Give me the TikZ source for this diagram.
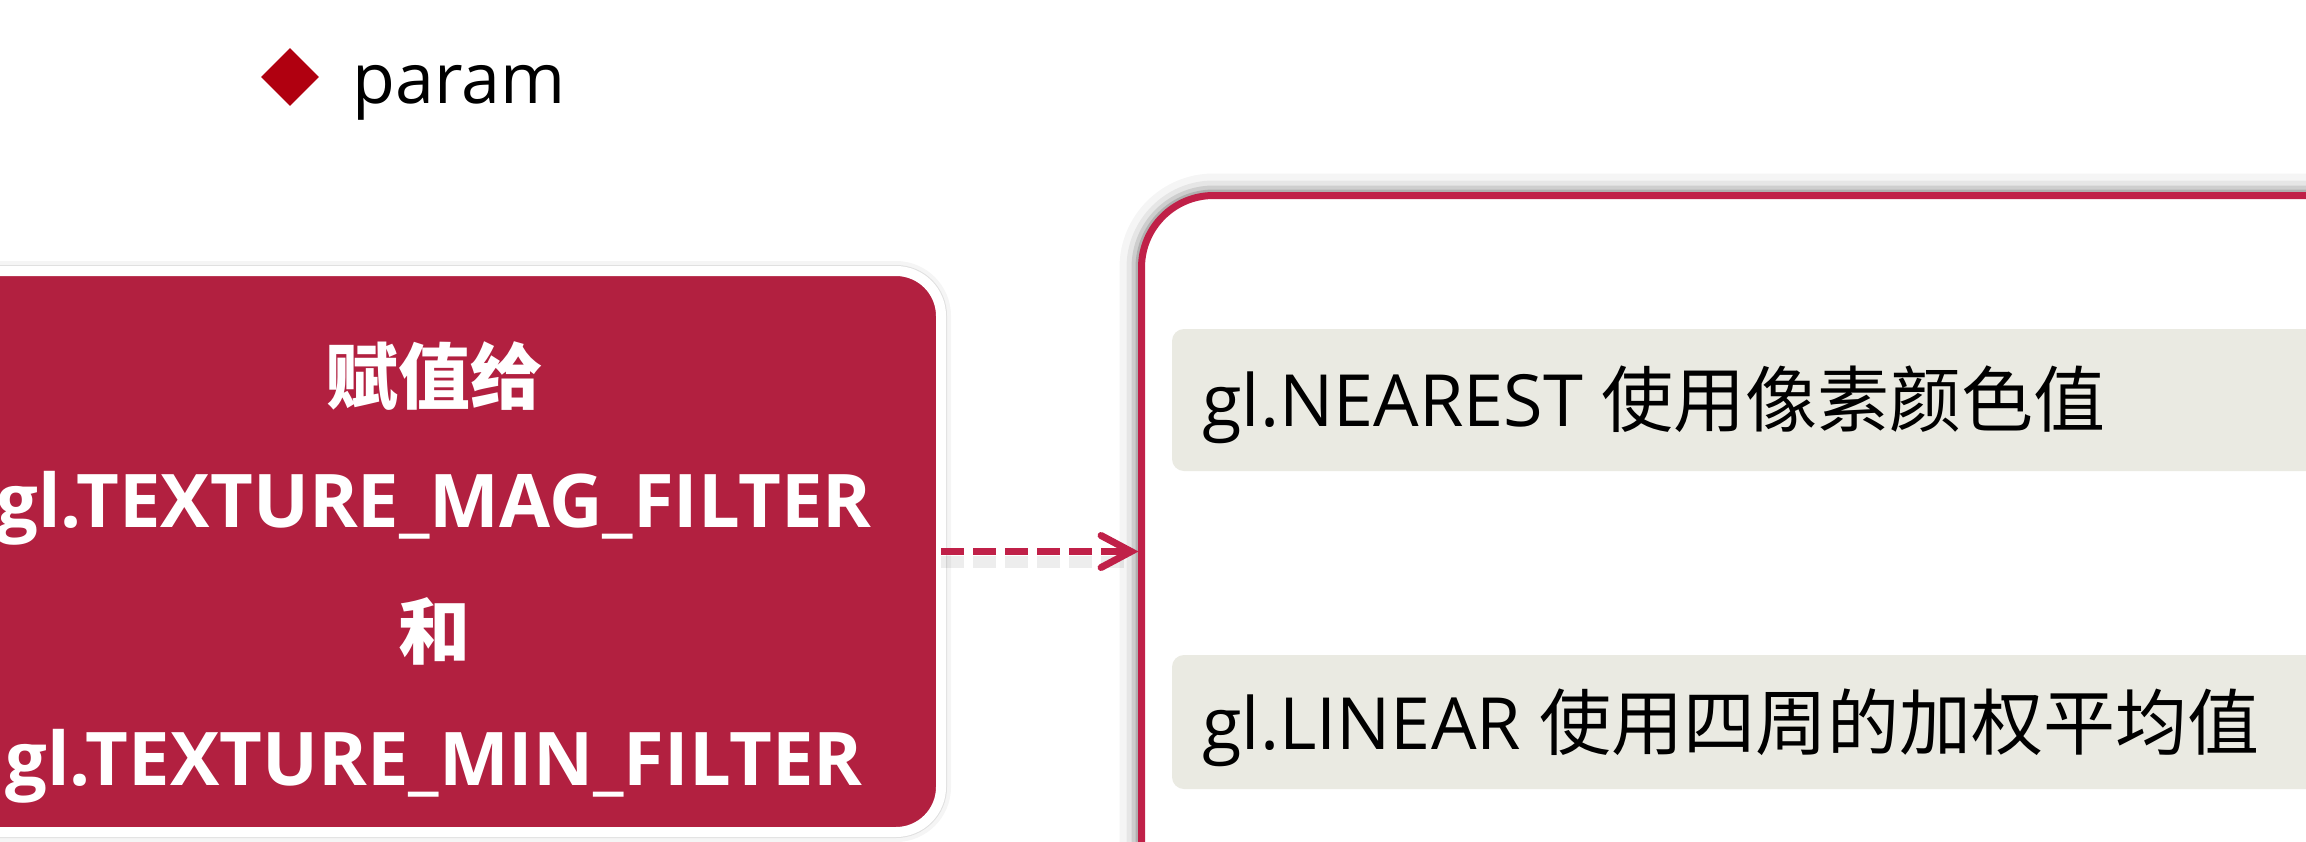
\documentclass[tikz,border=0pt]{standalone}
\usepackage{fontspec}
\setmainfont{Open Sans}
\newfontfamily\cjk{Noto Sans CJK SC}
\usetikzlibrary{arrows.meta,shapes.geometric}
\definecolor{boxred}{RGB}{178,32,64}
\definecolor{linered}{RGB}{192,32,72}
\definecolor{diamondred}{RGB}{176,0,16}
\definecolor{barfill}{RGB}{234,234,226}
\begin{document}
\begin{tikzpicture}[x=0.5pt,y=-0.5pt,
  bullet/.style={diamond, fill=diamondred, minimum width=29pt, minimum height=29pt, inner sep=0pt},
  titletext/.style={font=\fontsize{35pt}{40pt}\selectfont, anchor=base west, inner sep=0pt},
  redbox/.style={rectangle, rounded corners=22.5pt, fill=boxred, draw=white, line width=5pt,
    inner sep=0pt, outer sep=0pt,
    preaction={draw=black, opacity=0.04, line width=10pt},
    preaction={draw=black!12, line width=6pt}},
  whitebox/.style={rectangle, rounded corners=36pt, fill=white, draw=linered, line width=3.5pt,
    inner sep=0pt, outer sep=0pt,
    preaction={draw=black, opacity=0.04, line width=22pt},
    preaction={draw=black, opacity=0.06, line width=15pt},
    preaction={draw=black, opacity=0.10, line width=10pt},
    preaction={draw=black, opacity=0.14, line width=6pt}},
  graybar/.style={rectangle, rounded corners=6pt, fill=barfill, inner sep=0pt, outer sep=0pt},
  boxtext/.style={font=\bfseries\fontsize{36pt}{40pt}\selectfont, text=white, anchor=base, inner sep=0pt},
  boxlatin/.style={boxtext, font=\bfseries\fontsize{37pt}{40pt}\selectfont},
  bartext/.style={font=\fontsize{36pt}{40pt}\selectfont, text=black, anchor=base west, inner sep=0pt},
  flow/.style={draw=linered, line width=3.5pt, dash pattern=on 11.5pt off 4.5pt,
    -{Straight Barb[length=15pt,width=16pt,line cap=round]}, shorten >=1.5pt},
  flowshadow/.style={draw=black, opacity=0.07, line width=6pt, dash pattern=on 11.5pt off 4.5pt, shorten >=6pt}
]
\useasboundingbox (0,0) rectangle (2306,841);
\fill[white] (0,0) rectangle (2306,841);

% heading
\node[bullet] (bul) at (290,77) {};
\node[titletext] (param) at (352,103) {param};

% left red box
\node[redbox, minimum width=505.5pt, minimum height=280.5pt] (red) at (435.5,551.5) {};
\node[boxtext] (l1) at (434,403) {\cjk 赋值给};
\node[boxlatin] (l2) at (434,527) {gl.TEXTURE\_MAG\_FILTER};
\node[boxtext] (l3) at (434,658) {\cjk 和};
\node[boxlatin] (l4) at (434,785) {gl.TEXTURE\_MIN\_FILTER};

% right white box
\node[whitebox, minimum width=679.25pt, minimum height=402.25pt] (right) at (1820.75,597.75) {};

% gray bars
\node[graybar, minimum width=614pt, minimum height=71pt] (bar1) at (1786,400) {};
\node[graybar, minimum width=614pt, minimum height=67pt] (bar2) at (1786,722) {};
\node[bartext] (t1) at (1202,426) {gl.NEAREST {\cjk 使用像素颜色值}};
\node[bartext] (t2) at (1202,749) {gl.LINEAR {\cjk 使用四周的加权平均值}};

% connector
\draw[flowshadow] ([yshift=-5pt]red.east) -- ([yshift=-5pt]red.east -| right.west);
\draw[flow] (red.east) -- (red.east -| right.west);
\end{tikzpicture}
\end{document}
